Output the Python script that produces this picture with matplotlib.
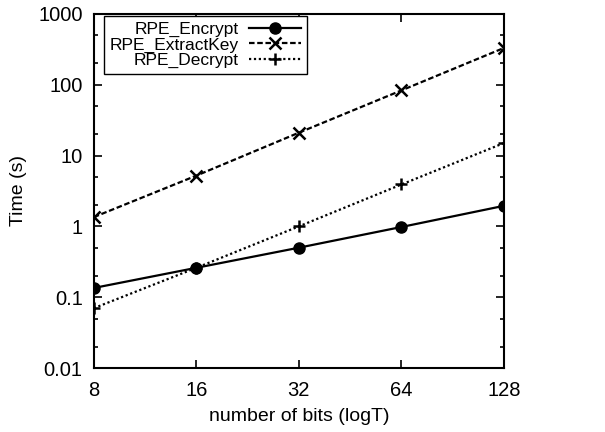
import matplotlib
matplotlib.use("Agg")
import matplotlib.pyplot as plt
from matplotlib.ticker import LogLocator, FixedLocator, NullFormatter

plt.rcParams['font.family'] = ['Liberation Sans', 'DejaVu Sans']

# data
bits = [8, 16, 32, 64, 128]
encrypt = [0.135, 0.26, 0.5, 0.98, 1.95]
extract_key = [1.35, 5.2, 21, 83, 330]
decrypt = [0.07, 0.26, 1.0, 3.9, 15]

fig = plt.figure(figsize=(6.05, 4.32), dpi=100)
ax = fig.add_axes([0.155, 0.148, 0.678, 0.820])

ax.plot(bits, encrypt, color='black', lw=1.6, ls='-', marker='o', ms=8,
        label='RPE_Encrypt')
ax.plot(bits, extract_key, color='black', lw=1.6, ls=(0, (2.5, 1.2)), marker='x',
        ms=8, mew=1.8, label='RPE_ExtractKey')
ax.plot(bits, decrypt, color='black', lw=1.6, ls=(0, (1, 1.2)), marker='+',
        ms=9, mew=1.8, label='RPE_Decrypt')

ax.set_xscale('log', base=2)
ax.set_yscale('log')
ax.set_xlim(8, 128)
ax.set_ylim(0.01, 1000)
ax.xaxis.set_major_locator(FixedLocator(bits))
ax.set_xticklabels([str(b) for b in bits])
ax.xaxis.set_minor_locator(FixedLocator([]))
ax.yaxis.set_major_locator(FixedLocator([0.01, 0.1, 1, 10, 100, 1000]))
ax.set_yticklabels(['0.01', '0.1', '1', '10', '100', '1000'])
ax.yaxis.set_minor_locator(LogLocator(base=10, subs=(2, 5)))
ax.yaxis.set_minor_formatter(NullFormatter())

ax.tick_params(which='both', direction='in', top=True, right=True,
               labelsize=14.5, width=1.2)
ax.tick_params(which='major', length=6)
ax.tick_params(axis='x', which='major', pad=9)
ax.tick_params(axis='y', which='major', pad=8)
ax.tick_params(which='minor', length=3)
for s in ax.spines.values():
    s.set_linewidth(1.5)

ax.set_xlabel('number of bits (logT)', fontsize=14, labelpad=6)
ax.set_ylabel('Time (s)', fontsize=14, labelpad=8)

leg = ax.legend(loc='upper left', bbox_to_anchor=(0.024, 0.994),
                markerfirst=False, fontsize=12.5,
                fancybox=False, framealpha=1, edgecolor='black',
                handlelength=3.0, borderpad=0.35, labelspacing=0.0,
                borderaxespad=0.0, handletextpad=0.6)
leg.get_frame().set_linewidth(1.0)
for t in leg.get_texts():
    t.set_ha('right')
leg._legend_box.align = 'right'

fig.savefig('out.png', dpi=100)
